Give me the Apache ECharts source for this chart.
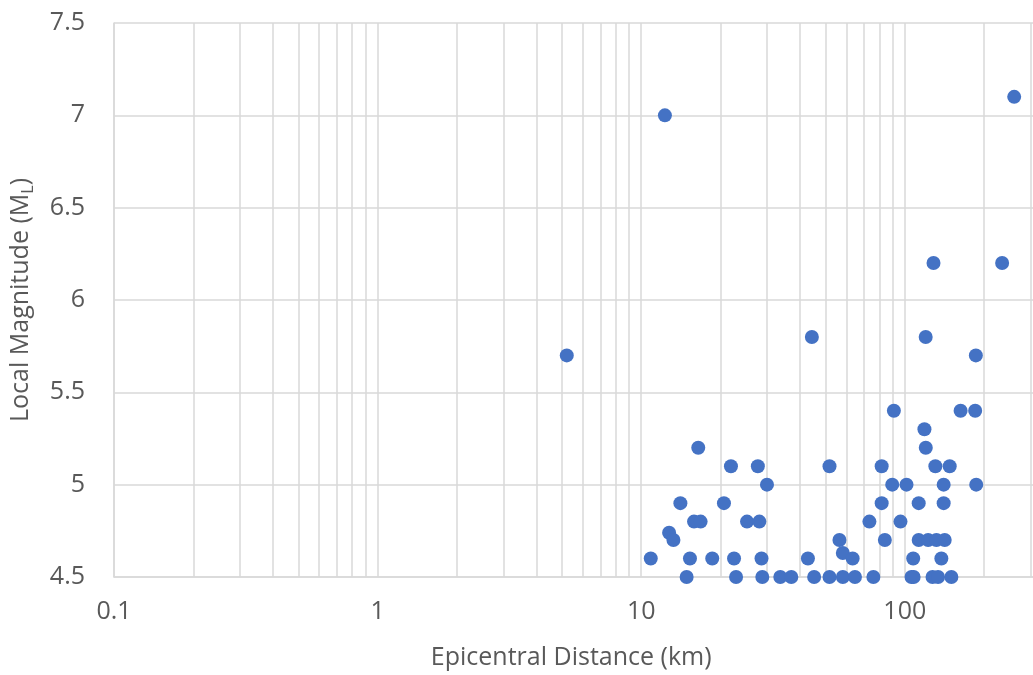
<!DOCTYPE html>
<html>
<head>
<meta charset="utf-8">
<title>Local Magnitude vs Epicentral Distance</title>
<script src="https://cdn.jsdelivr.net/npm/echarts@6/dist/echarts.min.js"></script>
<style>
  html, body { margin: 0; padding: 0; background: #ffffff; overflow: hidden; }
  /* The canvas is wider than the page: the 200–1000 km decade runs past the right edge. */
  #chart { width: 1200px; height: 675px; }
</style>
</head>
<body>
<div id="chart"></div>
<script>
// Epicentral distance (km) of each event
const distanceKm = [
  12.3, 260, 5.22, 44.4, 120, 128.5, 234, 186,
  90.9, 162.8, 184.9, 118.7, 16.46, 120.1,
  21.9, 27.7, 51.8, 81.7, 130.6, 148,
  30.0, 89.6, 101.5, 140.4, 186.6,
  14.08, 20.6, 81.7, 112.9, 140.4,
  15.86, 16.8, 25.2, 28.07, 73.4, 96.3,
  12.76, 13.25, 56.5, 84.0, 112.9, 122.6, 131.8, 141.7,
  10.87, 15.31, 18.6, 22.5, 28.6, 42.9, 58.2, 63.4, 107.6, 137.6,
  14.87, 22.9, 28.8, 33.7, 37.1, 45.3, 51.8, 58.2, 64.7, 76, 106, 108, 127.4, 133.7, 150.2
];

// Local magnitude (ML) of each event
const magnitudeML = [
  7.0, 7.1, 5.7, 5.8, 5.8, 6.2, 6.2, 5.7,
  5.4, 5.4, 5.4, 5.3, 5.2, 5.2,
  5.1, 5.1, 5.1, 5.1, 5.1, 5.1,
  5.0, 5.0, 5.0, 5.0, 5.0,
  4.9, 4.9, 4.9, 4.9, 4.9,
  4.8, 4.8, 4.8, 4.8, 4.8, 4.8,
  4.74, 4.7, 4.7, 4.7, 4.7, 4.7, 4.7, 4.7,
  4.6, 4.6, 4.6, 4.6, 4.6, 4.6, 4.63, 4.6, 4.6, 4.6,
  4.5, 4.5, 4.5, 4.5, 4.5, 4.5, 4.5, 4.5, 4.5, 4.5, 4.5, 4.5, 4.5, 4.5, 4.5
];

// Log-axis decades and the in-between gridline multipliers
const decades = [0.1, 1, 10, 100];
const minorMultipliers = [2, 3, 4, 5, 6, 7, 8, 9];

const points = distanceKm.map((d, i) => [d, magnitudeML[i]]);

const minorGridValues = [];
decades.forEach(dec => minorMultipliers.forEach(m => minorGridValues.push(+(dec * m).toPrecision(3))));

const gridColor = '#d9d9d9';
const textColor = '#595959';
const fontFamily = '"Open Sans", "Liberation Sans", sans-serif';
const fontSize = 25;

const chart = echarts.init(document.getElementById('chart'), null, { renderer: 'canvas' });

chart.setOption({
  animation: false,
  backgroundColor: '#ffffff',
  grid: { left: 114, right: 27, top: 23, bottom: 98, containLabel: false },
  xAxis: {
    type: 'log',
    logBase: 10,
    min: 0.1,
    max: 1000,
    name: 'Epicentral Distance (km)',
    nameLocation: 'middle',
    nameGap: 68,
    // extra right padding pulls the title toward the visible part of the axis
    nameTextStyle: { color: textColor, fontSize: fontSize, fontFamily: fontFamily, padding: [0, 140, 0, 0] },
    axisLine: { show: true, lineStyle: { color: gridColor, width: 1.5 } },
    axisTick: { show: false },
    axisLabel: {
      color: textColor, fontSize: fontSize, fontFamily: fontFamily, margin: 22,
      formatter: v => String(+v.toPrecision(3))
    },
    splitLine: { show: true, lineStyle: { color: gridColor, width: 1.5 } }
  },
  yAxis: {
    type: 'value',
    min: 4.5,
    max: 7.5,
    interval: 0.5,
    name: 'Local Magnitude (M{sub|L})',
    nameLocation: 'middle',
    nameGap: 78,
    nameRotate: 90,
    nameTextStyle: {
      color: textColor, fontSize: fontSize, fontFamily: fontFamily,
      rich: {
        sub: { color: textColor, fontSize: 16, fontFamily: fontFamily, padding: [14, 0, 0, 0] }
      }
    },
    axisLine: { show: true, lineStyle: { color: gridColor, width: 1.5 } },
    axisTick: { show: false },
    axisLabel: { color: textColor, fontSize: fontSize, fontFamily: fontFamily, margin: 29 },
    splitLine: { show: true, lineStyle: { color: gridColor, width: 1.5 } }
  },
  series: [
    {
      type: 'scatter',
      data: points,
      symbol: 'circle',
      symbolSize: 14,
      itemStyle: { color: '#4472c4', opacity: 1 },
      z: 3,
      markLine: {
        silent: true,
        symbol: 'none',
        animation: false,
        label: { show: false },
        lineStyle: { color: gridColor, width: 1.5, type: 'solid' },
        z: 1,
        data: minorGridValues.map(v => ({ xAxis: v }))
      }
    }
  ]
});
</script>
</body>
</html>
